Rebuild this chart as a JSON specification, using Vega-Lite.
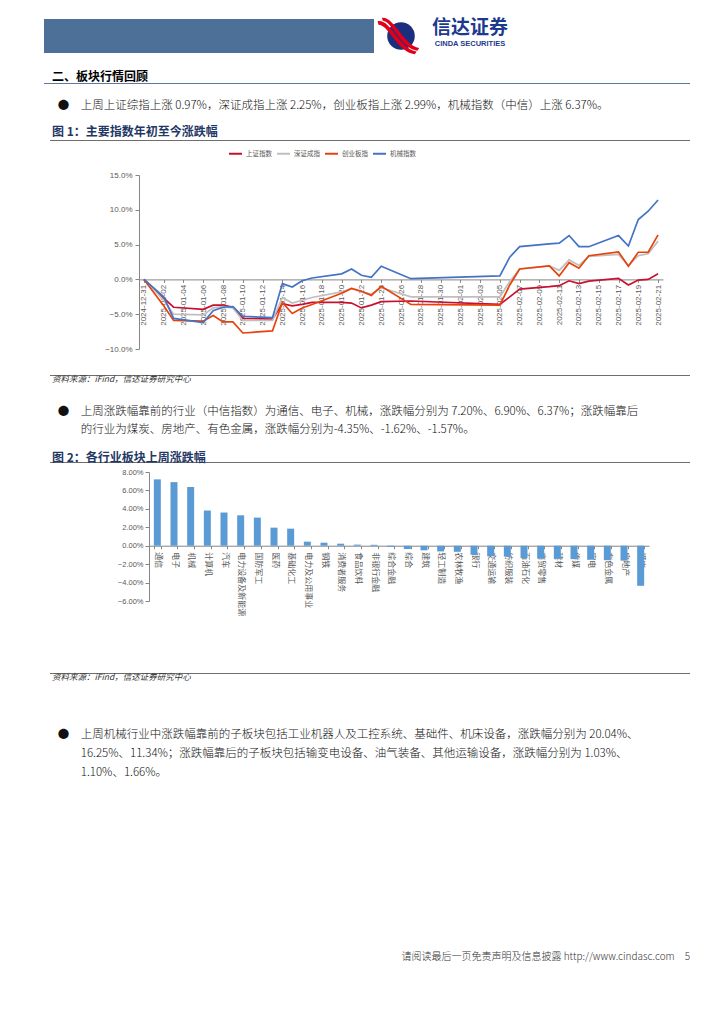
{
  "$schema": "https://vega.github.io/schema/vega-lite/v6.json",
  "padding": {"left": 44, "top": 17, "right": 0, "bottom": 0},
  "background": "#ffffff",
  "spacing": 0,
  "resolve": {"scale": {"color": "independent"}, "legend": {"color": "independent"}},
  "config": {
    "view": {"stroke": null},
    "font": "Noto Sans CJK SC",
    "title": {"font": "Noto Sans CJK SC", "subtitleFont": "Noto Sans CJK SC", "anchor": "start", "frame": "group", "color": "#000000", "fontWeight": "normal"},
    "axis": {"labelFont": "Liberation Sans", "grid": false, "title": null},
    "legend": {"labelFont": "Noto Sans CJK SC"}
  },
  "datasets": {
    "blank": [{"k": 1}],
    "logo": [{"line": "a", "t": "信达证券"}, {"line": "b", "t": "CINDA SECURITIES"}],
    "idx": [
      {"日期": "2024/12/31", "上证指数": 0, "深证成指": 0, "创业板指": 0, "机械指数": 0},
      {"日期": "2025/01/02", "上证指数": -2.7, "深证成指": -3.0, "创业板指": -3.8, "机械指数": -2.5},
      {"日期": "2025/01/03", "上证指数": -4.0, "深证成指": -5.0, "创业板指": -5.9, "机械指数": -5.6},
      {"日期": "2025/01/06", "上证指数": -4.3, "深证成指": -5.1, "创业板指": -6.0, "机械指数": -6.2},
      {"日期": "2025/01/07", "上证指数": -3.7, "深证成指": -4.1, "创业板指": -5.2, "机械指数": -4.5},
      {"日期": "2025/01/08", "上证指数": -3.7, "深证成指": -3.9, "创业板指": -6.1, "机械指数": -4.0},
      {"日期": "2025/01/09", "上证指数": -4.0, "深证成指": -4.1, "创业板指": -6.1, "机械指数": -3.9},
      {"日期": "2025/01/10", "上证指数": -5.6, "深证成指": -5.9, "创业板指": -7.7, "机械指数": -5.3},
      {"日期": "2025/01/13", "上证指数": -5.7, "深证成指": -5.9, "创业板指": -7.4, "机械指数": -5.5},
      {"日期": "2025/01/14", "上证指数": -3.5, "深证成指": -2.6, "创业板指": -3.3, "机械指数": -0.6},
      {"日期": "2025/01/15", "上证指数": -3.8, "深证成指": -3.4, "创业板指": -4.9, "机械指数": -1.1},
      {"日期": "2025/01/16", "上证指数": -3.6, "深证成指": -3.0, "创业板指": -4.1, "机械指数": -0.2},
      {"日期": "2025/01/17", "上证指数": -3.3, "深证成指": -2.6, "创业板指": -3.6, "机械指数": 0.2},
      {"日期": "2025/01/20", "上证指数": -3.3, "深证成指": -1.8, "创业板指": -2.0, "机械指数": 0.8},
      {"日期": "2025/01/21", "上证指数": -3.4, "深证成指": -1.3, "创业板指": -1.3, "机械指数": 1.5},
      {"日期": "2025/01/22", "上证指数": -4.1, "深证成指": -1.8, "创业板指": -1.7, "机械指数": 0.6},
      {"日期": "2025/01/23", "上证指数": -3.7, "深证成指": -2.1, "创业板指": -2.3, "机械指数": 0.3},
      {"日期": "2025/01/24", "上证指数": -3.2, "深证成指": -1.2, "创业板指": -1.0, "机械指数": 1.9},
      {"日期": "2025/01/27", "上证指数": -3.1, "深证成指": -2.5, "创业板指": -3.6, "机械指数": 0.1},
      {"日期": "2025/02/05", "上证指数": -3.6, "深证成指": -2.5, "创业板指": -3.7, "机械指数": 0.5},
      {"日期": "2025/02/06", "上证指数": -2.5, "深证成指": -0.3, "创业板指": -0.8, "机械指数": 3.2},
      {"日期": "2025/02/07", "上证指数": -1.4, "深证成指": 1.5, "创业板指": 1.5, "机械指数": 4.7},
      {"日期": "2025/02/10", "上证指数": -1.05, "深证成指": 1.95, "创业板指": 1.95, "机械指数": 5.1},
      {"日期": "2025/02/11", "上证指数": -0.9, "深证成指": 1.3, "创业板指": 0.5, "机械指数": 5.2},
      {"日期": "2025/02/12", "上证指数": -0.2, "深证成指": 2.8, "创业板指": 2.4, "机械指数": 6.3},
      {"日期": "2025/02/13", "上证指数": -0.6, "深证成指": 2.0, "创业板指": 1.6, "机械指数": 4.7},
      {"日期": "2025/02/14", "上证指数": -0.25, "深证成指": 3.3, "创业板指": 3.4, "机械指数": 4.7},
      {"日期": "2025/02/17", "上证指数": 0.15, "深证成指": 3.6, "创业板指": 3.95, "机械指数": 6.3},
      {"日期": "2025/02/18", "上证指数": -0.8, "深证成指": 2.0, "创业板指": 1.9, "机械指数": 4.8},
      {"日期": "2025/02/19", "上证指数": -0.1, "深证成指": 3.4, "创业板指": 3.9, "机械指数": 8.6},
      {"日期": "2025/02/20", "上证指数": 0.0, "深证成指": 3.7, "创业板指": 3.9, "机械指数": 9.8},
      {"日期": "2025/02/21", "上证指数": 0.8, "深证成指": 5.5, "创业板指": 6.4, "机械指数": 11.4}
    ],
    "ind": [
      {"行业": "通信", "涨跌幅": 7.20},
      {"行业": "电子", "涨跌幅": 6.90},
      {"行业": "机械", "涨跌幅": 6.37},
      {"行业": "计算机", "涨跌幅": 3.82},
      {"行业": "汽车", "涨跌幅": 3.60},
      {"行业": "电力设备及新能源", "涨跌幅": 3.30},
      {"行业": "国防军工", "涨跌幅": 3.05},
      {"行业": "医药", "涨跌幅": 1.96},
      {"行业": "基础化工", "涨跌幅": 1.85},
      {"行业": "电力及公用事业", "涨跌幅": 0.44},
      {"行业": "钢铁", "涨跌幅": 0.33},
      {"行业": "消费者服务", "涨跌幅": 0.22},
      {"行业": "食品饮料", "涨跌幅": 0.12},
      {"行业": "非银行金融", "涨跌幅": 0.10},
      {"行业": "综合金融", "涨跌幅": -0.12},
      {"行业": "综合", "涨跌幅": -0.36},
      {"行业": "建筑", "涨跌幅": -0.50},
      {"行业": "轻工制造", "涨跌幅": -0.62},
      {"行业": "农林牧渔", "涨跌幅": -0.66},
      {"行业": "银行", "涨跌幅": -0.98},
      {"行业": "交通运输", "涨跌幅": -1.15},
      {"行业": "纺织服装", "涨跌幅": -1.18},
      {"行业": "石油石化", "涨跌幅": -1.34},
      {"行业": "商贸零售", "涨跌幅": -1.40},
      {"行业": "建材", "涨跌幅": -1.43},
      {"行业": "传媒", "涨跌幅": -1.46},
      {"行业": "家电", "涨跌幅": -1.52},
      {"行业": "有色金属", "涨跌幅": -1.57},
      {"行业": "房地产", "涨跌幅": -1.62},
      {"行业": "煤炭", "涨跌幅": -4.35}
    ]
  },
  "vconcat": [
    {
      "bounds": "flush",
      "spacing": 6,
      "hconcat": [
        {"width": 330, "height": 34, "data": {"name": "blank"}, "mark": {"type": "text", "text": ""}, "view": {"fill": "#4d7099"}},
        {"width": 42, "height": 34, "data": {"name": "blank"}, "layer": [
          {"mark": {"type": "point", "shape": "circle", "filled": true, "color": "#1c2f7e", "size": 760, "opacity": 1}},
          {"mark": {"type": "point", "shape": "M -1.35 -0.85 C -0.6 -1.0 -0.1 0.75 0.9 0.9 L 0.8 1.05 C -0.2 0.95 -0.7 -0.65 -1.3 -0.65 Z M -1.1 -1.05 C -0.4 -1.15 0.15 0.55 1.05 0.7 L 0.95 0.85 C 0.0 0.75 -0.5 -0.85 -1.05 -0.88 Z", "filled": true, "color": "#e0001b", "size": 1200, "opacity": 1}}
        ]},
        {"width": 84, "height": 34, "data": {"name": "logo"}, "layer": [
          {"transform": [{"filter": "datum.line == 'a'"}], "mark": {"type": "text", "fontSize": 19, "fontWeight": "bold", "color": "#1d3a8f"}, "encoding": {"y": {"field": "line", "type": "nominal", "scale": {"type": "point", "domain": ["a", "b"], "padding": 0.5625}, "axis": null}, "text": {"field": "t"}}},
          {"transform": [{"filter": "datum.line == 'b'"}], "mark": {"type": "text", "fontSize": 7.5, "fontWeight": "bold", "color": "#1d3a8f", "font": "Liberation Sans"}, "encoding": {"y": {"field": "line", "type": "nominal", "scale": {"type": "point", "domain": ["a", "b"], "padding": 0.5625}, "axis": null}, "text": {"field": "t"}}}
        ]}
      ]
    },
    {"width": 646, "height": 15, "data": {"name": "blank"}, "mark": {"type": "text", "text": ""}},
    {"width": 646, "height": 1, "data": {"name": "blank"}, "mark": {"type": "text", "text": ""}, "view": {"fill": "#5b7aa3"},
      "title": {"text": "二、板块行情回顾", "fontSize": 12, "fontWeight": "bold", "dx": 8, "offset": -6}},
    {"width": 646, "height": 4, "data": {"name": "blank"}, "mark": {"type": "text", "text": ""}},
    {
      "bounds": "flush", "spacing": 0,
      "hconcat": [
        {"width": 6, "height": 1, "data": {"name": "blank"}, "mark": {"type": "text", "text": ""}},
        {"width": 640, "height": 1, "data": {"name": "blank"}, "mark": {"type": "text", "text": ""}, "view": {"fill": "#6e6e6e"},
          "title": {"text": ["\u200b\u2002●\u2003上周上证综指上涨 0.97%，深证成指上涨 2.25%，创业板指上涨 2.99%，机械指数（中信）上涨 6.37%。"], "fontSize": 11.5, "fontWeight": 300, "color": "#111111",
            "subtitle": "图 1：主要指数年初至今涨跌幅", "subtitleFontSize": 12, "subtitleFontWeight": "bold", "subtitleColor": "#1f3864", "subtitlePadding": 15, "offset": -3, "dx": 2}}
      ]
    },
    {
      "bounds": "flush", "spacing": 0,
      "resolve": {"scale": {"color": "independent"}, "legend": {"color": "independent"}},
      "hconcat": [
        {"width": 95, "height": 174, "data": {"name": "blank"}, "mark": {"type": "text", "text": ""}},
        {
          "width": 524, "height": 174,
          "data": {"name": "idx"},
          "transform": [{"fold": ["上证指数", "深证成指", "创业板指", "机械指数"], "as": ["指数", "涨跌幅"]}],
          "mark": {"type": "line", "strokeWidth": 1.7},
          "encoding": {
            "x": {"field": "日期", "type": "temporal",
              "scale": {"domain": [{"year": 2024, "month": 12, "date": 30, "hours": 12}, {"year": 2025, "month": 2, "date": 21, "hours": 12}], "nice": false},
              "axis": {"values": [
                {"year": 2024, "month": 12, "date": 31},
                {"year": 2025, "month": 1, "date": 2}, {"year": 2025, "month": 1, "date": 4}, {"year": 2025, "month": 1, "date": 6},
                {"year": 2025, "month": 1, "date": 8}, {"year": 2025, "month": 1, "date": 10}, {"year": 2025, "month": 1, "date": 12},
                {"year": 2025, "month": 1, "date": 14}, {"year": 2025, "month": 1, "date": 16}, {"year": 2025, "month": 1, "date": 18},
                {"year": 2025, "month": 1, "date": 20}, {"year": 2025, "month": 1, "date": 22}, {"year": 2025, "month": 1, "date": 24},
                {"year": 2025, "month": 1, "date": 26}, {"year": 2025, "month": 1, "date": 28}, {"year": 2025, "month": 1, "date": 30},
                {"year": 2025, "month": 2, "date": 1}, {"year": 2025, "month": 2, "date": 3}, {"year": 2025, "month": 2, "date": 5},
                {"year": 2025, "month": 2, "date": 7}, {"year": 2025, "month": 2, "date": 9}, {"year": 2025, "month": 2, "date": 11},
                {"year": 2025, "month": 2, "date": 13}, {"year": 2025, "month": 2, "date": 15}, {"year": 2025, "month": 2, "date": 17},
                {"year": 2025, "month": 2, "date": 19}, {"year": 2025, "month": 2, "date": 21}],
                "format": "%Y-%m-%d", "labelAngle": -90, "labelFontSize": 8, "labelColor": "#595959", "offset": -69.6,
                "domainColor": "#868686", "tickColor": "#868686", "tickSize": 3, "labelPadding": 2, "labelOverlap": false, "labelFlush": false}},
            "y": {"field": "涨跌幅", "type": "quantitative",
              "scale": {"domain": [-10, 15], "nice": false},
              "axis": {"values": [-10, -5, 0, 5, 10, 15], "labelExpr": "format(datum.value, '.1f') + '%'", "labelFontSize": 8, "labelColor": "#595959",
                "domainColor": "#868686", "tickColor": "#868686", "tickSize": 4, "labelPadding": 3}},
            "color": {"field": "指数", "type": "nominal",
              "scale": {"domain": ["上证指数", "深证成指", "创业板指", "机械指数"], "range": ["#c8102e", "#bfbfbf", "#e8420c", "#4472c4"]},
              "legend": {"orient": "none", "legendX": 89, "legendY": -29, "padding": 0, "offset": 0, "direction": "horizontal", "title": null, "symbolType": "stroke",
                "symbolStrokeWidth": 2, "symbolSize": 169, "labelFontSize": 6.5, "labelColor": "#595959", "columnPadding": 1, "labelOffset": 3}}
          }
        }
      ]
    },
    {"width": 646, "height": 16, "data": {"name": "blank"}, "mark": {"type": "text", "text": ""}},
    {
      "bounds": "flush", "spacing": 0,
      "hconcat": [
        {"width": 6, "height": 1, "data": {"name": "blank"}, "mark": {"type": "text", "text": ""}},
        {"width": 640, "height": 1, "data": {"name": "blank"}, "mark": {"type": "text", "text": ""}, "view": {"fill": "#6e6e6e"},
          "title": {"text": "资料来源：iFind，信达证券研究中心", "orient": "bottom", "fontSize": 8.5, "fontStyle": "italic", "color": "#333333", "offset": -6, "dx": 2}}
      ]
    },
    {"width": 646, "height": 23, "data": {"name": "blank"}, "mark": {"type": "text", "text": ""}},
    {
      "bounds": "flush", "spacing": 0,
      "hconcat": [
        {"width": 6, "height": 1, "data": {"name": "blank"}, "mark": {"type": "text", "text": ""}},
        {"width": 640, "height": 1, "data": {"name": "blank"}, "mark": {"type": "text", "text": ""}, "view": {"fill": "#6e6e6e"},
          "title": {"text": ["\u200b\u2002●\u2003上周涨跌幅靠前的行业（中信指数）为通信、电子、机械，涨跌幅分别为 7.20%、6.90%、6.37%；涨跌幅靠后", "\u200b\u2002\u3000\u2003的行业为煤炭、房地产、有色金属，涨跌幅分别为-4.35%、-1.62%、-1.57%。"],
            "fontSize": 11.5, "fontWeight": 300, "lineHeight": 18, "color": "#111111",
            "subtitle": "图 2：各行业板块上周涨跌幅", "subtitleFontSize": 12, "subtitleFontWeight": "bold", "subtitleColor": "#1f3864", "subtitlePadding": 17, "offset": -7, "dx": 2}}
      ]
    },
    {
      "bounds": "flush", "spacing": 0,
      "hconcat": [
        {"width": 105, "height": 129, "data": {"name": "blank"}, "mark": {"type": "text", "text": ""}},
        {
          "width": 500, "height": 129,
          "data": {"name": "ind"},
          "mark": {"type": "bar", "color": "#5b9bd5"},
          "encoding": {
            "x": {"field": "行业", "type": "nominal", "sort": null,
              "scale": {"paddingInner": 0.58, "paddingOuter": 0.29},
              "axis": {"labelAngle": 90, "offset": -55.29, "labelFontSize": 8, "labelColor": "#595959", "labelFont": "Noto Sans CJK SC",
                "domainColor": "#868686", "tickColor": "#868686", "tickSize": 3, "tickBand": "extent", "labelPadding": 3, "labelLimit": 0}},
            "y": {"field": "涨跌幅", "type": "quantitative",
              "scale": {"domain": [-6, 8], "nice": false},
              "axis": {"values": [-6, -4, -2, 0, 2, 4, 6, 8], "labelExpr": "format(datum.value, '.2f') + '%'", "labelFontSize": 7.5, "labelColor": "#595959",
                "domainColor": "#868686", "tickColor": "#868686", "tickSize": 4}}
          }
        }
      ]
    },
    {"width": 646, "height": 51, "data": {"name": "blank"}, "mark": {"type": "text", "text": ""}},
    {
      "bounds": "flush", "spacing": 0,
      "hconcat": [
        {"width": 6, "height": 1, "data": {"name": "blank"}, "mark": {"type": "text", "text": ""}},
        {"width": 640, "height": 1, "data": {"name": "blank"}, "mark": {"type": "text", "text": ""}, "view": {"fill": "#6e6e6e"},
          "title": {"text": "资料来源：iFind，信达证券研究中心", "orient": "bottom", "fontSize": 8.5, "fontStyle": "italic", "color": "#333333", "offset": -6, "dx": 2}}
      ]
    },
    {"width": 646, "height": 48, "data": {"name": "blank"}, "mark": {"type": "text", "text": ""}},
    {
      "bounds": "flush", "spacing": 0,
      "hconcat": [
        {"width": 6, "height": 1, "data": {"name": "blank"}, "mark": {"type": "text", "text": ""}},
        {"width": 640, "height": 1, "data": {"name": "blank"}, "mark": {"type": "text", "text": ""},
          "title": {"text": ["\u200b\u2002●\u2003上周机械行业中涨跌幅靠前的子板块包括工业机器人及工控系统、基础件、机床设备，涨跌幅分别为 20.04%、", "\u200b\u2002\u3000\u200316.25%、11.34%；涨跌幅靠后的子板块包括输变电设备、油气装备、其他运输设备，涨跌幅分别为 1.03%、", "\u200b\u2002\u3000\u20031.10%、1.66%。"],
            "fontSize": 11.5, "fontWeight": 300, "lineHeight": 19, "color": "#111111", "offset": 0, "dx": 2}}
      ]
    },
    {"width": 646, "height": 161, "data": {"name": "blank"}, "mark": {"type": "text", "text": ""}},
    {"width": 646, "height": 1, "data": {"name": "blank"}, "mark": {"type": "text", "text": ""},
      "title": {"text": "请阅读最后一页免责声明及信息披露 http://www.cindasc.com\u2002\u20025", "anchor": "end", "fontSize": 10, "fontWeight": 300, "color": "#333333", "offset": 0}}
  ]
}
